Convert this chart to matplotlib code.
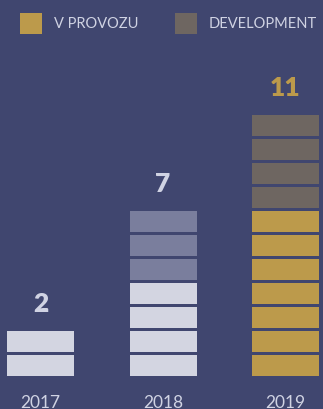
import matplotlib.pyplot as plt
from matplotlib.patches import Rectangle

years = ["2017", "2018", "2019"]
highlight = [2, 4, 0]   # light blocks
faded = [0, 3, 0]       # faded blocks
v_provozu = [0, 0, 7]
development = [0, 0, 4]
totals = [2, 7, 11]

BG = "#40466f"
LIGHT = "#d3d5e1"
FADED = "#7a7e9d"
GOLD = "#bc9a4b"
GREY = "#6e6661"
TEXT = "#d0d3e3"

plt.rcParams['font.family'] = ['Lato', 'DejaVu Sans']

W, H = 323, 410
fig = plt.figure(figsize=(W / 100, H / 100), dpi=100, facecolor=BG)
ax = fig.add_axes([0, 0, 1, 1])
ax.set_facecolor(BG)
ax.axis("off")

# one data unit = one block step
pitch_x, pitch_y = 122.5, 24.0
x0_px, y0_px = 40.5, 377
ax.set_xlim(-x0_px / pitch_x, (W - x0_px) / pitch_x)
ax.set_ylim(-(H - y0_px) / pitch_y, y0_px / pitch_y)

bw = 67 / pitch_x
bh = 21 / pitch_y

for i, yr in enumerate(years):
    level = 0
    for n, col in [(highlight[i], LIGHT), (faded[i], FADED),
                   (v_provozu[i], GOLD), (development[i], GREY)]:
        for k in range(n):
            ax.bar(i, bh, bottom=level, width=bw, color=col, linewidth=0)
            level += 1
    col = GOLD if i == 2 else TEXT
    ax.text(i, totals[i] + 1.06, str(totals[i]), ha="center", va="center",
            fontsize=19, fontweight="heavy", color=col)
    ax.text(i, -0.75, yr, ha="center", va="top", fontsize=12.5,
            color=TEXT)

# legend
for (x, lab, col) in [(20, "V PROVOZU", GOLD), (175, "DEVELOPMENT", GREY)]:
    fig.add_artist(Rectangle((x / W, 1 - 35 / H), 22 / W, 21 / H,
                             transform=fig.transFigure, color=col, lw=0))
    fig.text((x + 34) / W, 1 - 24.5 / H, lab, ha="left", va="center",
             fontsize=10.5, color=TEXT)

fig.savefig("out.png", dpi=100, facecolor=BG)
